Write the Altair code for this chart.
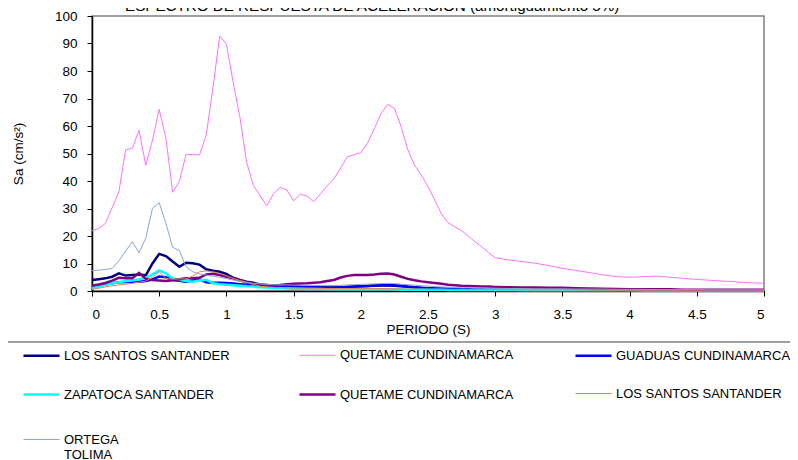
import altair as alt
import pandas as pd

PERIOD = [0, 0.05, 0.1, 0.15, 0.2, 0.25, 0.3, 0.35, 0.4, 0.45, 0.5, 0.55, 0.6, 0.65, 0.7, 0.75,
          0.8, 0.85, 0.9, 0.95, 1.0, 1.05, 1.1, 1.15, 1.2, 1.25, 1.3, 1.35, 1.4, 1.45, 1.5, 1.55,
          1.6, 1.65, 1.7, 1.75, 1.8, 1.85, 1.9, 1.95, 2.0, 2.05, 2.1, 2.15, 2.2, 2.25, 2.3, 2.35,
          2.4, 2.45, 2.5, 2.55, 2.6, 2.65, 2.7, 2.75, 2.8, 2.85, 2.9, 2.95, 3.0,
          3.1, 3.2, 3.3, 3.4, 3.5, 3.6, 3.7, 3.8, 3.9, 4.0, 4.1, 4.2, 4.3, 4.4, 4.5, 4.6, 4.7,
          4.8, 4.9, 5.0]

LOS_SANTOS_1 = [4.0, 4.3, 4.6, 5.2, 6.4, 5.6, 5.8, 6.0, 5.7, 10.0, 13.5, 12.7, 10.7, 8.8, 10.3, 10.1,
                9.6, 7.9, 7.4, 7.0, 6.2, 4.8, 4.0, 3.4, 3.0, 2.4, 2.2, 2.0, 2.0, 1.9, 1.8, 1.6,
                1.5, 1.4, 1.3, 1.3, 1.3, 1.4, 1.5, 1.6, 1.7, 1.8, 1.9, 2.0, 2.0, 1.9, 1.7, 1.5,
                1.3, 1.1, 1.0, 0.9, 0.8, 0.7, 0.7, 0.6, 0.6, 0.5, 0.5, 0.5, 0.5,
                0.5, 0.4, 0.4, 0.4, 0.4, 0.4, 0.3, 0.3, 0.3, 0.3, 0.3, 0.3, 0.3, 0.3, 0.2, 0.2, 0.2,
                0.2, 0.2, 0.2]
QUETAME_1 = [21.9, 22.7, 24.6, 30.3, 36.1, 51.3, 51.9, 58.5, 45.7, 54.9, 66.1, 55.5, 35.9, 39.8, 49.7, 49.6,
             49.5, 56.7, 74.0, 92.7, 89.8, 76.0, 63.4, 47.0, 38.5, 34.7, 31.0, 35.3, 37.7, 36.7, 32.8, 35.2,
             34.5, 32.5, 35.3, 38.3, 40.8, 44.7, 48.8, 49.6, 50.3, 53.7, 59.0, 64.4, 67.9, 66.4, 59.8, 51.3,
             45.8, 42.2, 37.9, 33.1, 28.0, 24.8, 23.3, 21.9, 20.0, 17.9, 16.1, 14.0, 12.1,
             11.3, 10.7, 10.1, 9.2, 8.2, 7.5, 6.7, 5.9, 5.2, 5.0, 5.2, 5.4, 5.0, 4.6, 4.2, 3.9, 3.6,
             3.3, 3.0, 2.8]
GUADUAS = [1.5, 2.0, 2.4, 2.8, 3.2, 3.3, 3.4, 3.4, 3.6, 4.2, 5.3, 5.0, 4.0, 3.7, 3.4, 3.8,
           4.2, 3.2, 3.0, 3.0, 2.9, 2.7, 2.5, 2.3, 2.1, 2.0, 1.9, 1.8, 1.7, 1.7, 1.6, 1.5,
           1.4, 1.3, 1.3, 1.2, 1.2, 1.3, 1.5, 1.6, 1.7, 1.8, 2.0, 2.1, 2.2, 2.1, 1.9, 1.6,
           1.4, 1.2, 1.0, 0.9, 0.8, 0.7, 0.6, 0.6, 0.5, 0.5, 0.5, 0.4, 0.4,
           0.4, 0.4, 0.3, 0.3, 0.3, 0.3, 0.3, 0.3, 0.3, 0.2, 0.2, 0.2, 0.2, 0.2, 0.2, 0.2, 0.2,
           0.2, 0.2, 0.2]
ZAPATOCA = [1.0, 1.6, 2.3, 2.8, 3.2, 3.6, 3.8, 4.2, 4.8, 6.0, 7.5, 6.4, 4.6, 4.1, 3.6, 3.4,
            3.8, 4.1, 2.8, 2.5, 2.3, 2.1, 1.9, 1.7, 1.6, 1.4, 1.3, 1.1, 1.0, 0.9, 0.8, 0.8,
            0.7, 0.7, 0.7, 0.6, 0.6, 0.6, 0.6, 0.6, 0.6, 0.6, 0.6, 0.6, 0.6, 0.6, 0.5, 0.5,
            0.5, 0.5, 0.5, 0.5, 0.5, 0.4, 0.4, 0.4, 0.4, 0.4, 0.4, 0.4, 0.4,
            0.4, 0.3, 0.3, 0.3, 0.3, 0.3, 0.3, 0.3, 0.3, 0.3, 0.2, 0.2, 0.2, 0.2, 0.2, 0.2, 0.2,
            0.2, 0.2, 0.2]
QUETAME_2 = [2.0, 2.4, 2.9, 3.8, 4.8, 4.6, 4.6, 6.6, 4.4, 4.0, 3.8, 3.6, 3.9, 4.3, 4.6, 4.6,
             4.8, 6.0, 6.3, 5.8, 5.2, 4.6, 3.9, 3.2, 2.6, 2.3, 2.1, 2.0, 2.2, 2.5, 2.6, 2.7,
             2.8, 3.0, 3.2, 3.6, 4.0, 4.9, 5.5, 5.8, 5.8, 5.8, 6.0, 6.3, 6.4, 6.0, 5.2, 4.4,
             3.9, 3.5, 3.2, 2.9, 2.6, 2.3, 2.1, 1.9, 1.8, 1.7, 1.6, 1.6, 1.5,
             1.4, 1.3, 1.3, 1.2, 1.2, 1.0, 0.9, 0.8, 0.7, 0.6, 0.6, 0.6, 0.6, 0.5, 0.5, 0.5, 0.5,
             0.5, 0.5, 0.5]
LOS_SANTOS_2 = [0.6, 1.0, 1.5, 1.9, 2.2, 2.4, 2.8, 3.2, 3.6, 5.0, 7.0, 4.6, 4.3, 4.4, 4.4, 5.4,
                7.0, 7.3, 7.0, 6.4, 5.5, 4.6, 3.8, 3.2, 2.4, 1.7, 1.5, 1.3, 1.2, 1.1, 1.1, 1.0,
                1.0, 1.0, 0.9, 0.9, 0.9, 0.9, 0.9, 0.9, 0.9, 0.9, 0.9, 0.9, 0.9, 0.8, 0.8, 0.7,
                0.7, 0.7, 0.6, 0.6, 0.6, 0.6, 0.5, 0.5, 0.5, 0.5, 0.5, 0.5, 0.5,
                0.5, 0.4, 0.4, 0.4, 0.4, 0.4, 0.3, 0.3, 0.3, 0.3, 0.3, 0.3, 0.3, 0.3, 0.3, 0.3, 0.3,
                0.3, 0.3, 0.3]
ORTEGA = [7.4, 7.6, 7.8, 8.2, 11.0, 14.5, 17.9, 13.9, 19.2, 30.1, 32.1, 24.6, 15.9, 14.7, 8.8, 7.0,
          6.2, 5.8, 5.4, 5.0, 4.5, 4.0, 3.5, 3.1, 2.8, 2.6, 2.4, 2.3, 2.2, 2.2, 2.1, 2.1,
          2.1, 2.0, 2.0, 2.0, 2.0, 2.1, 2.2, 2.3, 2.4, 2.5, 2.6, 2.7, 2.8, 2.7, 2.5, 2.3,
          2.1, 1.9, 1.8, 1.6, 1.5, 1.4, 1.3, 1.2, 1.2, 1.1, 1.1, 1.0, 1.0,
          0.9, 0.9, 0.8, 0.8, 0.8, 0.7, 0.7, 0.7, 0.6, 0.6, 0.6, 0.5, 0.5, 0.5, 0.5, 0.4, 0.4,
          0.4, 0.4, 0.4]

KEYS = ["s1", "s2", "s3", "s4", "s5", "s6", "s7"]
NAMES = ["LOS SANTOS SANTANDER", "QUETAME CUNDINAMARCA", "GUADUAS CUNDINAMARCA",
         "ZAPATOCA SANTANDER", "QUETAME CUNDINAMARCA", "LOS SANTOS SANTANDER", "ORTEGA TOLIMA"]
SERIES = [LOS_SANTOS_1, QUETAME_1, GUADUAS, ZAPATOCA, QUETAME_2, LOS_SANTOS_2, ORTEGA]
COLORS = ["#000080", "#FF70FF", "#0000FF", "#00FFFF", "#800080", "#DD8850", "#8EA4D2"]
WIDTHS = [2.5, 1, 2.5, 2.5, 2.5, 1, 1]

X_TICKS = [0, 0.5, 1, 1.5, 2, 2.5, 3, 3.5, 4, 4.5, 5]
Y_TICKS = [0, 10, 20, 30, 40, 50, 60, 70, 80, 90, 100]

rows = []
for key, vals in zip(KEYS, SERIES):
    for t, v in zip(PERIOD, vals):
        rows.append({"T": t, "Sa": v, "key": key})
df = pd.DataFrame(rows)

parts = []
for k, n in zip(KEYS, NAMES):
    if n == "ORTEGA TOLIMA":
        parts.append((k, "['ORTEGA', 'TOLIMA']"))
    else:
        parts.append((k, "'" + n + "'"))
label_expr = ""
for k, lab in parts[:-1]:
    label_expr += f"datum.value == '{k}' ? {lab} : "
label_expr += parts[-1][1]

FONT = "Liberation Sans"

lines = alt.Chart(df).mark_line().encode(
    x=alt.X("T:Q", scale=alt.Scale(domain=[0, 5], nice=False),
            axis=alt.Axis(values=X_TICKS, format="~g", title="PERIODO (S)",
                          labelPadding=11, titlePadding=2)),
    y=alt.Y("Sa:Q", scale=alt.Scale(domain=[0, 100], nice=False),
            axis=alt.Axis(values=Y_TICKS, title="Sa (cm/s²)", labelPadding=10,
                          titlePadding=29)),
    color=alt.Color("key:N", scale=alt.Scale(domain=KEYS, range=COLORS),
                    legend=alt.Legend(title=None, orient="none", legendX=-70, legendY=313,
                                      direction="horizontal",
                                      columns=3, gridAlign="all", columnPadding=55,
                                      rowPadding=5, symbolType="stroke", symbolSize=1296,
                                      labelOffset=3, labelFontSize=13, labelFont=FONT,
                                      labelLimit=300, padding=0, labelExpr=label_expr)),
    strokeWidth=alt.StrokeWidth("key:N", scale=alt.Scale(type="ordinal", domain=KEYS, range=WIDTHS)),
)

sep = alt.Chart(pd.DataFrame({"a": [0]})).mark_rule(color="#808080", strokeWidth=1.5).encode(
    x=alt.value(-100), x2=alt.value(800), y=alt.value(326)
)

chart = alt.layer(lines, sep).properties(
    width=672, height=275,
    autosize=alt.AutoSizeParams(type="none"),
    padding={"left": 84, "top": 8, "right": 26, "bottom": 175},
    title=alt.TitleParams(
        text="ESPECTRO DE RESPUESTA DE ACELERACION  (amortiguamiento 5%)",
        anchor="start", frame="group", dx=33, dy=17.5, fontSize=15.2, fontWeight="normal",
        font=FONT, color="black", baseline="alphabetic", offset=0),
).configure_view(
    stroke="#808080", strokeWidth=1.5
).configure_axis(
    domainColor="black", domainWidth=1.5, tickColor="black", tickSize=5, tickWidth=1,
    labelFont=FONT, labelFontSize=13.5, labelColor="black",
    titleFont=FONT, titleFontSize=13.5, titleFontWeight="normal", titleColor="black",
    grid=False,
).configure_legend(
    labelColor="black"
)

chart.save("out.html", embed_options={"renderer": "svg", "actions": False})
